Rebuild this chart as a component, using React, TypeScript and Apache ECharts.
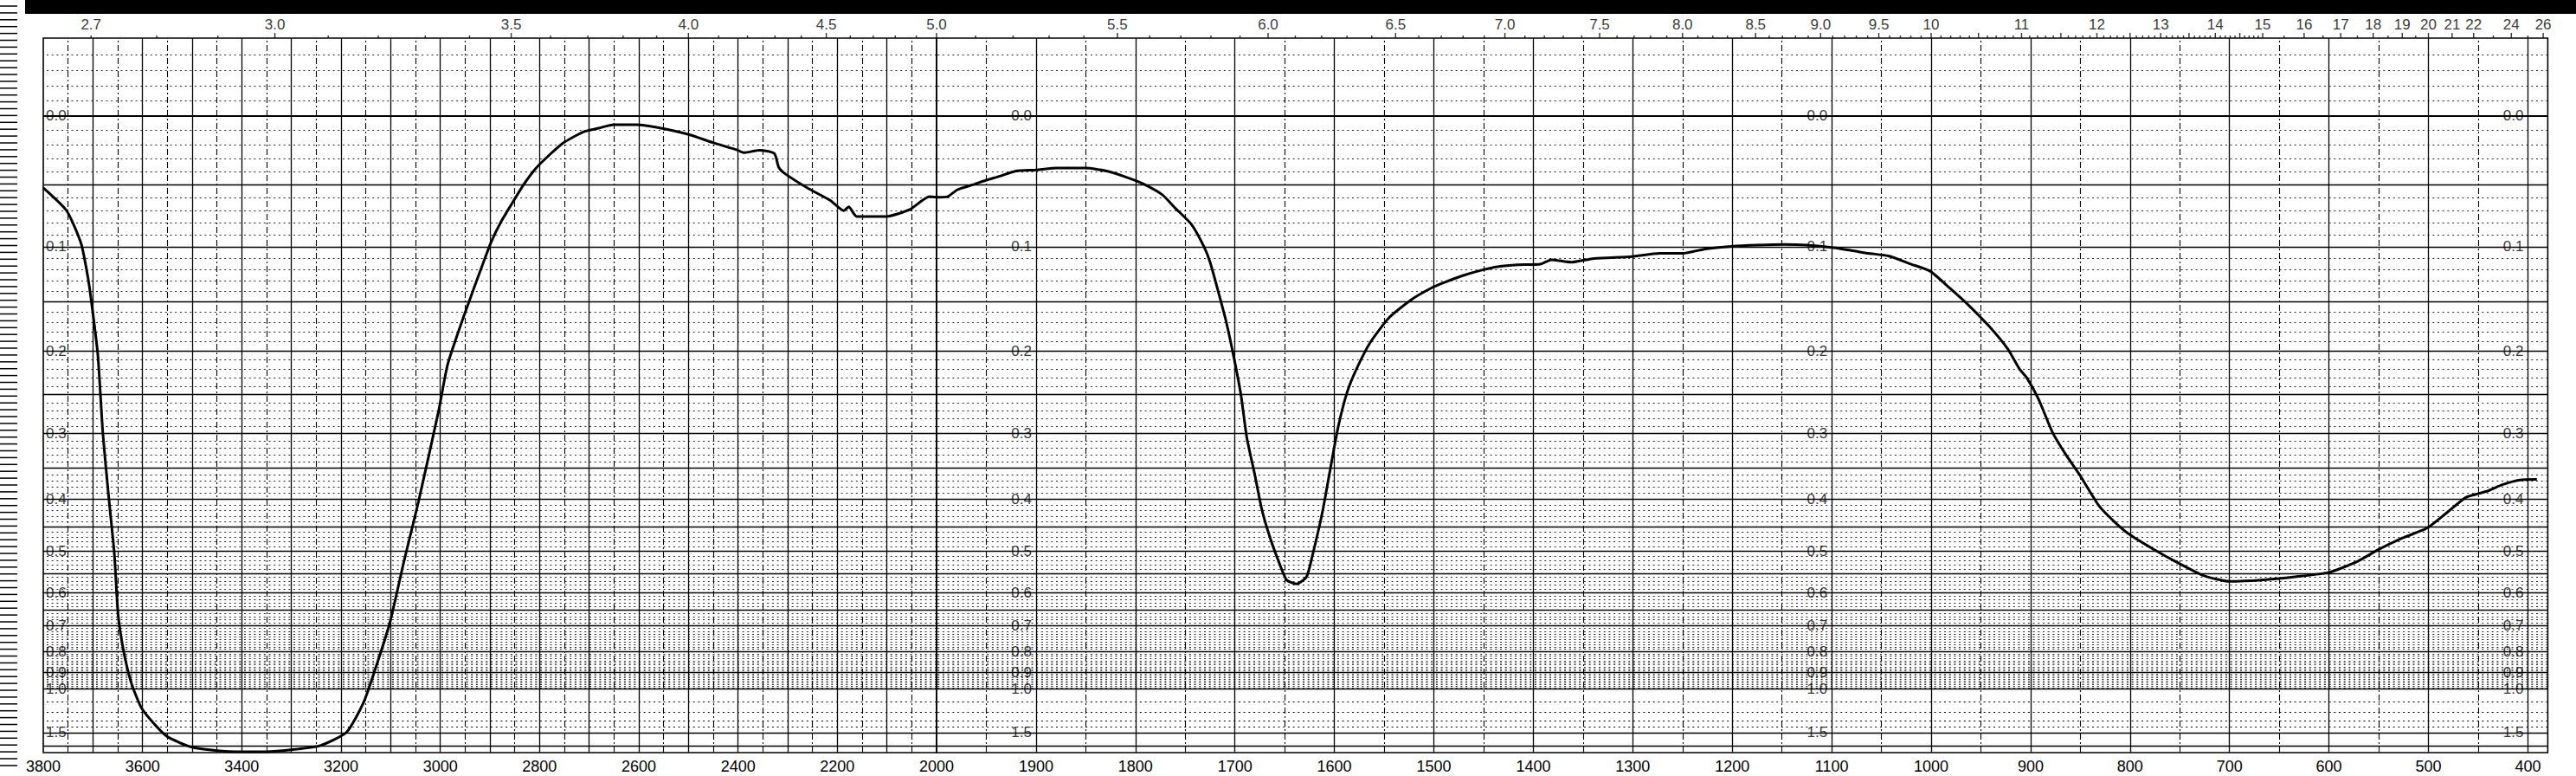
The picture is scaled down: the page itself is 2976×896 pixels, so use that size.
import React, { useEffect, useRef } from 'react';
import * as echarts from 'echarts';

const W = 2976;
const H = 896;
const FONT = 'Liberation Sans, Arial, sans-serif';

// ---- Spectrum trace (percent transmittance) ----
// 3800–2000 cm-1 section (compressed scale)
const highWavenumbers = [3800, 3753, 3724, 3710, 3701, 3690, 3680, 3669, 3657, 3649, 3637, 3622, 3602, 3573, 3550, 3503, 3457, 3410, 3352, 3294, 3242, 3189, 3155, 3132, 3102, 3073, 3044, 3003, 2985, 2951, 2913, 2898, 2878, 2855, 2832, 2808, 2785, 2751, 2711, 2681, 2651, 2604, 2555, 2501, 2451, 2401, 2388, 2357, 2327, 2318, 2307, 2261, 2214, 2187, 2177, 2161, 2101, 2054, 2014, 2000];
const highTransmittance = [88.7, 85.1, 80.0, 74.6, 69.6, 62.4, 50.2, 40.8, 31.4, 21.5, 15.5, 10.8, 7.0, 4.2, 2.5, 0.9, 0.37, 0.14, 0.14, 0.5, 1.1, 3.2, 7.8, 12.9, 20.3, 30.1, 39.4, 53.8, 61.0, 68.9, 77.0, 80.1, 83.3, 86.3, 89.2, 91.7, 93.5, 95.8, 97.5, 98.05, 98.6, 98.6, 98.05, 97.1, 95.8, 94.6, 94.2, 94.6, 94.1, 91.9, 91.0, 88.7, 86.7, 85.1, 85.7, 84.2, 84.2, 85.3, 87.3, 87.2];

// 2000–380 cm-1 section (expanded scale)
const lowWavenumbers = [2000, 1989, 1979, 1963, 1950, 1937, 1921, 1900, 1879, 1850, 1828, 1808, 1792, 1773, 1760, 1744, 1731, 1725, 1718, 1709, 1701, 1694, 1688, 1680, 1673, 1665, 1656, 1648, 1638, 1628, 1622, 1612, 1603, 1596, 1587, 1577, 1564, 1545, 1522, 1502, 1490, 1471, 1451, 1436, 1416, 1393, 1382, 1362, 1339, 1301, 1273, 1250, 1227, 1201, 1175, 1148, 1125, 1098, 1078, 1063, 1043, 1020, 1001, 981, 962, 942, 923, 911, 904, 892, 878, 865, 851, 831, 814, 800, 776, 753, 726, 700, 668, 634, 600, 573, 550, 526, 501, 482, 462, 442, 425, 408, 391];
const lowTransmittance = [87.2, 87.3, 88.4, 89.2, 89.9, 90.5, 91.3, 91.5, 91.8, 91.8, 91.3, 90.3, 89.3, 87.6, 85.5, 83.0, 79.4, 77.0, 73.1, 67.8, 62.0, 56.2, 49.4, 43.6, 38.2, 33.9, 30.0, 27.1, 26.5, 27.6, 31.0, 37.8, 45.5, 51.3, 56.7, 60.5, 64.4, 68.3, 71.2, 73.0, 73.8, 74.9, 75.8, 76.3, 76.6, 76.7, 77.4, 77.0, 77.6, 77.9, 78.4, 78.4, 79.1, 79.5, 79.7, 79.8, 79.7, 79.3, 78.8, 78.4, 78.0, 76.7, 75.6, 72.9, 70.2, 67.0, 63.4, 60.2, 58.9, 55.5, 50.3, 46.9, 43.7, 38.7, 36.0, 34.2, 31.9, 29.9, 27.8, 26.9, 27.1, 27.6, 28.3, 29.9, 31.9, 33.7, 35.3, 37.6, 40.1, 41.0, 42.1, 42.8, 42.9];

// ---- Axis / scale texts ----
const bottomLabelsLow = [1900, 1800, 1700, 1600, 1500, 1400, 1300, 1200, 1100, 1000, 900, 800, 700, 600, 500, 400];
const micronLabels = ['2.7', '3.0', '3.5', '4.0', '4.5', '5.0', '5.5', '6.0', '6.5', '7.0', '7.5', '8.0', '8.5', '9.0', '9.5', '10', '11', '12', '13', '14', '15', '16', '17', '18', '19', '20', '21', '22', '24', '26'];
const absorbanceLabels = ['0.0', '0.1', '0.2', '0.3', '0.4', '0.5', '0.6', '0.7', '0.8', '0.9', '1.0', '1.5'];
const absorbanceLabelColumns = [1900, 1100, 400];
const solidAbsorbance = [0.05, 0.1, 0.15, 0.2, 0.25, 0.3, 0.35, 0.4, 0.45, 0.5, 0.55, 0.6, 0.65, 0.7, 0.8, 0.9, 1.0, 1.5, 2.0];
const extraDottedAbsorbance = [1.1, 1.2, 1.3, 1.4];

const toT = (a: number) => 100 * Math.pow(10, -a);
const Y_TOP = toT(-0.05); // 112.2 %T at the top edge of the paper

function horizontalLines(dash: number[]) {
  const items: any[] = [];
  items.push({ yAxis: toT(0), lineStyle: { color: '#000', width: 2.2, type: 'solid' } });
  solidAbsorbance.forEach((a) => items.push({ yAxis: toT(a), lineStyle: { color: '#000', width: 1.4, type: 'solid' } }));
  const isSolid = (a: number) => a === 0 || solidAbsorbance.some((s) => Math.abs(s - a) < 1e-6);
  for (let k = -4; k <= 100; k++) {
    const a = k / 100;
    if (isSolid(a)) continue;
    items.push({ yAxis: toT(a), lineStyle: { color: '#000', width: 1, type: dash, opacity: 0.85 } });
  }
  extraDottedAbsorbance.forEach((a) => items.push({ yAxis: toT(a), lineStyle: { color: '#000', width: 1, type: dash } }));
  return items;
}

function verticalLines(from: number, to: number) {
  const items: any[] = [];
  for (let w = from; w <= to; w += 50) {
    const solid = w % 100 === 0;
    items.push({
      xAxis: w,
      lineStyle: solid
        ? { color: '#000', width: 1.3, type: 'solid' }
        : { color: '#000', width: 1.1, type: [7, 3, 2, 3] },
    });
  }
  return items;
}

function buildOption() {
  const highData = highWavenumbers.map((w, i) => [w, highTransmittance[i]]);
  const lowData = lowWavenumbers.map((w, i) => [w, lowTransmittance[i]]);

  // micron scale along the top edge
  const micronTicks: { w: number; len: number }[] = [];
  for (let i = 27; i <= 150; i++) micronTicks.push({ w: 10000 / (i / 10), len: i % 5 === 0 ? 6 : 3 });
  [155, 160, 165, 170, 175, 180, 185, 190, 195, 200, 210, 220, 230, 240, 250, 260].forEach((i) =>
    micronTicks.push({ w: 10000 / (i / 10), len: micronLabels.includes(String(i / 10)) ? 6 : 3 })
  );
  const tickItem = (t: { w: number; len: number }) => ({
    value: [t.w, Y_TOP],
    symbolSize: [1.4, t.len],
    symbolOffset: [0, -t.len / 2],
  });
  const micronLabelItem = (m: string) => ({ value: [10000 / parseFloat(m), Y_TOP], name: m });

  const labelStyle = (position: string, distance: number) => ({
    show: true,
    position,
    distance,
    formatter: '{b}',
    fontSize: 17,
    fontFamily: FONT,
    color: '#000',
    backgroundColor: '#fff',
    padding: [0, 1],
  });

  const absItems = (labels: string[], w: number) => labels.map((l) => ({ value: [w, toT(parseFloat(l))], name: l }));

  const gridStyle = { show: true, borderColor: '#000', borderWidth: 1.6, backgroundColor: 'transparent', top: 44, height: 825 };

  const xLabel = { fontSize: 18, fontFamily: FONT, color: '#000', margin: 7, formatter: (v: number) => String(v) };

  return {
    animation: false,
    backgroundColor: '#fff',
    grid: [
      { ...gridStyle, left: 50, width: 1032 },
      { ...gridStyle, left: 1082, width: 1861.4 },
    ],
    xAxis: [
      {
        type: 'value', gridIndex: 0, min: 2000, max: 3800, interval: 200, inverse: true,
        axisLine: { show: false }, axisTick: { show: false }, splitLine: { show: false },
        axisLabel: { ...xLabel, showMinLabel: true, showMaxLabel: true },
      },
      {
        type: 'value', gridIndex: 1, min: 380, max: 2000, inverse: true,
        axisLine: { show: false }, axisTick: { show: false }, splitLine: { show: false },
        axisLabel: { ...xLabel, customValues: bottomLabelsLow },
      },
    ],
    yAxis: [
      { type: 'value', gridIndex: 0, min: 0, max: Y_TOP, show: false },
      { type: 'value', gridIndex: 1, min: 0, max: Y_TOP, show: false },
    ],
    series: [
      {
        type: 'line', xAxisIndex: 0, yAxisIndex: 0, data: [], z: 1, silent: true,
        markLine: { silent: true, symbol: ['none', 'none'], label: { show: false }, data: [...horizontalLines([2, 3.7]), ...verticalLines(2050, 3750)] },
      },
      {
        type: 'line', xAxisIndex: 1, yAxisIndex: 1, data: [], z: 1, silent: true,
        markLine: { silent: true, symbol: ['none', 'none'], label: { show: false }, data: [...horizontalLines([2, 3.7]), ...verticalLines(400, 1950)] },
      },
      // micron ticks & labels
      {
        type: 'scatter', xAxisIndex: 0, yAxisIndex: 0, symbol: 'rect', clip: false, silent: true, z: 3,
        itemStyle: { color: '#000' },
        data: micronTicks.filter((t) => t.w >= 2000).map(tickItem),
      },
      {
        type: 'scatter', xAxisIndex: 1, yAxisIndex: 1, symbol: 'rect', clip: false, silent: true, z: 3,
        itemStyle: { color: '#000' },
        data: micronTicks.filter((t) => t.w < 2000).map(tickItem),
      },
      {
        type: 'scatter', xAxisIndex: 0, yAxisIndex: 0, symbolSize: 0, clip: false, silent: true, z: 3,
        label: { show: true, position: 'top', distance: 7, formatter: '{b}', fontSize: 17, fontFamily: FONT, color: '#000' },
        data: micronLabels.filter((m) => 10000 / parseFloat(m) >= 2000).map(micronLabelItem),
      },
      {
        type: 'scatter', xAxisIndex: 1, yAxisIndex: 1, symbolSize: 0, clip: false, silent: true, z: 3,
        label: { show: true, position: 'top', distance: 7, formatter: '{b}', fontSize: 17, fontFamily: FONT, color: '#000' },
        data: micronLabels.filter((m) => 10000 / parseFloat(m) < 2000).map(micronLabelItem),
      },
      // absorbance labels
      {
        type: 'scatter', xAxisIndex: 0, yAxisIndex: 0, symbolSize: 0, clip: false, silent: true, z: 4,
        label: labelStyle('right', 2),
        data: absItems(absorbanceLabels, 3800),
      },
      {
        type: 'scatter', xAxisIndex: 1, yAxisIndex: 1, symbolSize: 0, clip: false, silent: true, z: 4,
        label: labelStyle('left', 4),
        data: absorbanceLabelColumns.flatMap((w) => absItems(absorbanceLabels, w)),
      },
      // the trace
      {
        type: 'line', xAxisIndex: 0, yAxisIndex: 0, data: highData, showSymbol: false, smooth: 0.2, z: 5,
        lineStyle: { color: '#000', width: 3 },
      },
      {
        type: 'line', xAxisIndex: 1, yAxisIndex: 1, data: lowData, showSymbol: false, smooth: 0.2, z: 5,
        lineStyle: { color: '#000', width: 3 },
      },
    ],
    graphic: [
      { type: 'rect', shape: { x: 29, y: 0, width: W - 29, height: 16 }, style: { fill: '#000' }, silent: true },
      ...Array.from({ length: 112 }, (_, i) => ({
        type: 'line',
        shape: { x1: 0, y1: 7 + i * 7.9, x2: 20, y2: 7 + i * 7.9 },
        style: { stroke: '#000', lineWidth: 1.5 },
        silent: true,
      })),
    ],
  };
}

export default function App() {
  const ref = useRef<HTMLDivElement>(null);
  useEffect(() => {
    const chart = echarts.init(ref.current!, null, { renderer: 'svg' });
    chart.setOption(buildOption() as any);
    return () => chart.dispose();
  }, []);
  return (
    <div
      ref={ref}
      style={{ position: 'absolute', left: 0, top: 0, width: W, height: H, background: '#fff' }}
    />
  );
}
